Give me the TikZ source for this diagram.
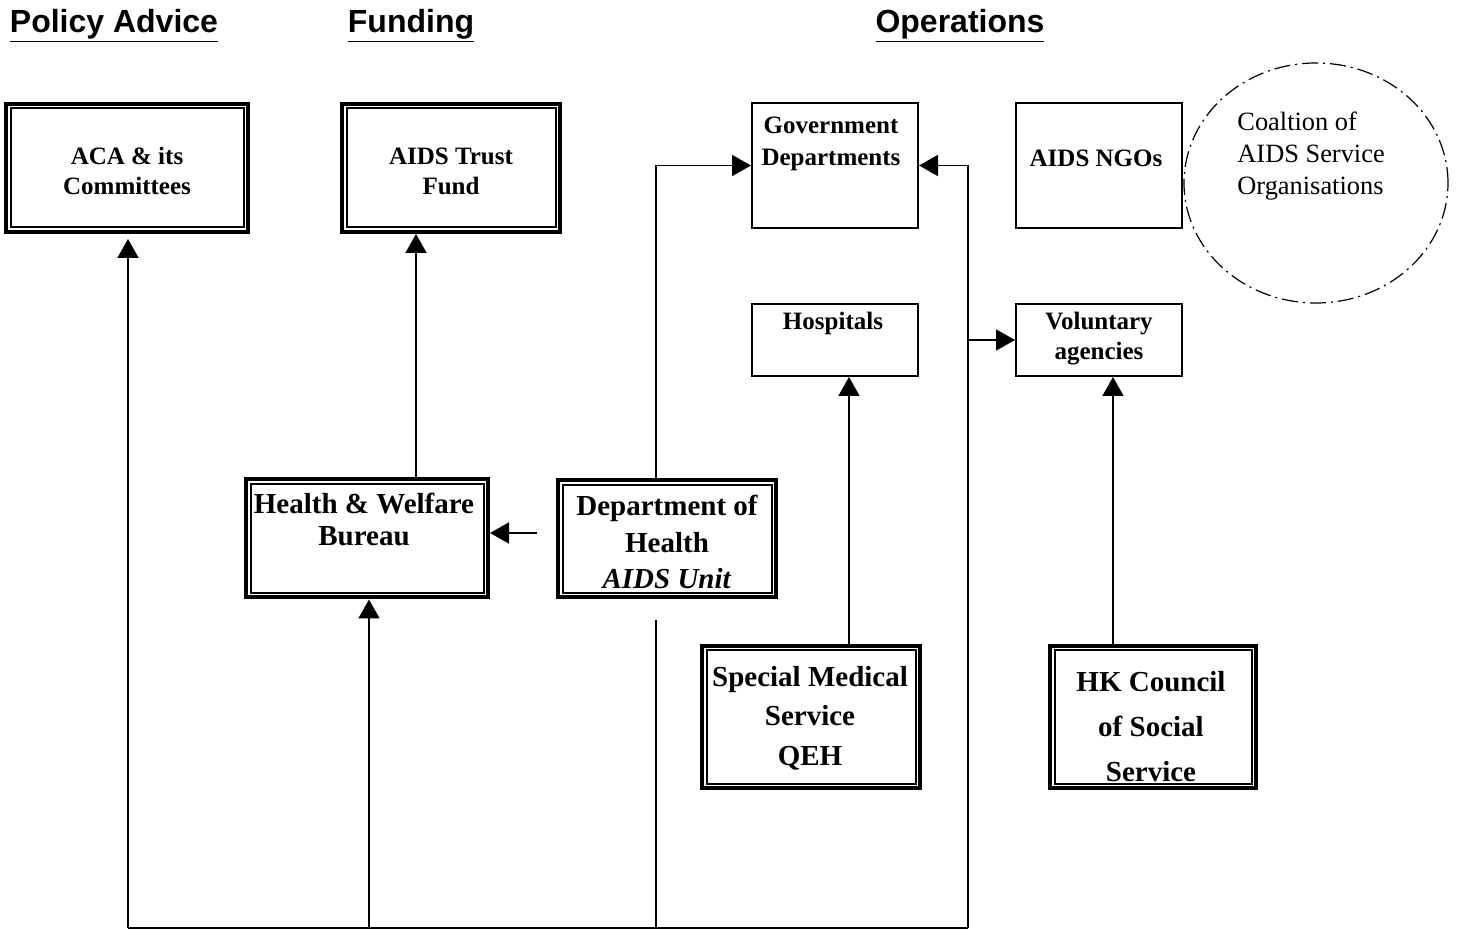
\documentclass[tikz,border=0pt]{standalone}
\usepackage{fontspec}
\setmainfont{Liberation Serif}
\newfontfamily\headfont{Liberation Sans}
\usetikzlibrary{arrows.meta,shapes.geometric}

\tikzset{
  box/.style={draw, line width=1pt, inner sep=0pt},
  dbox/.style={draw, line width=2pt, inner sep=0pt,
    path picture={\draw[line width=1pt]
      ([shift={(2.25pt,-2.25pt)}]path picture bounding box.north west) rectangle
      ([shift={(-2.25pt,2.25pt)}]path picture bounding box.south east);}},
  txt/.style={align=center, inner sep=0pt, font=\bfseries\fontsize{12.5}{15}\selectfont},
  bigtxt/.style={align=center, inner sep=0pt, font=\bfseries\fontsize{14.5}{16}\selectfont},
  head/.style={inner sep=0pt, font=\headfont\bfseries\fontsize{16}{19}\selectfont},
  link/.style={line width=0.9pt, -{Triangle[length=9.5pt,width=10.5pt]}},
  line/.style={line width=0.9pt},
}

\begin{document}
\begin{tikzpicture}[x=0.5pt,y=-0.5pt]
\useasboundingbox (0,0) rectangle (1458,930);

% headings
\node[head] (h-policy) at (114,26) {\underline{Policy Advice}};
\node[head] (h-fund) at (411,26) {\underline{Funding}};
\node[head] (h-ops) at (960,26) {\underline{Operations}};

% top row
\node[dbox, minimum width=121pt, minimum height=64pt] (aca) at (127,168) {};
\node[txt] (aca-t) at (127,171) {ACA \& its\\Committees};
\node[dbox, minimum width=109pt, minimum height=64pt] (fund) at (451,168) {};
\node[txt] (fund-t) at (451,171) {AIDS Trust\\Fund};
\node[box, minimum width=83pt, minimum height=62.5pt] (gov) at (835,165.5) {};
\node[txt, font=\bfseries\fontsize{12.5}{16}\selectfont] (gov-t) at (831,144) {Government\\Departments};
\node[box, minimum width=83pt, minimum height=62.5pt] (ngo) at (1099,165.5) {};
\node[txt] (ngo-t) at (1096,158) {AIDS NGOs};
\node[draw, ellipse, line width=0.6pt, dash pattern=on 8pt off 2.5pt on 1pt off 2.5pt,
  minimum width=132pt, minimum height=120pt] (coal) at (1316,183) {};
\node[align=left, inner sep=0pt, anchor=west, font=\fontsize{13.2}{16}\selectfont]
  (coal-t) at (1237,156) {Coaltion of\\AIDS Service\\Organisations};

% second row
\node[box, minimum width=83pt, minimum height=36pt] (hosp) at (835,340) {};
\node[txt] (hosp-t) at (833,323) {Hospitals};
\node[box, minimum width=83pt, minimum height=36pt] (vol) at (1099,340) {};
\node[txt] (vol-t) at (1099,339) {Voluntary\\agencies};

% middle row
\node[dbox, minimum width=121pt, minimum height=59pt] (hwb) at (367,538.5) {};
\node[bigtxt] (hwb-t) at (364,519) {Health \& Welfare\\Bureau};
\node[dbox, minimum width=109pt, minimum height=58.5pt] (doh) at (667,539) {};
\node[bigtxt, font=\bfseries\fontsize{14.5}{18.25}\selectfont] (doh-t) at (667,542)
  {Department of\\Health\\\textit{AIDS Unit}};

% bottom row
\node[dbox, minimum width=109pt, minimum height=71pt] (sms) at (811,717) {};
\node[bigtxt, font=\bfseries\fontsize{14.5}{19.75}\selectfont] (sms-t) at (810,718)
  {Special Medical\\Service\\QEH};
\node[dbox, minimum width=103pt, minimum height=71pt] (hkc) at (1153,717) {};
\node[bigtxt, font=\bfseries\fontsize{14.5}{22.5}\selectfont] (hkc-t) at (1151,727)
  {HK Council\\of Social\\Service};

% connectors
\coordinate (bl) at (128,928);
\coordinate (br) at (968,928);
\coordinate (hwbx) at (369,800);
\coordinate (dohfree) at (656,620);
\coordinate (fundx) at (416,400);
\coordinate (dohtip) at (537,533);
\coordinate (hospx) at (849,500);
\coordinate (volx) at (1113,500);

\draw[line] (bl) -- (br);
\draw[link] (bl) -- ([yshift=-2.5pt]bl |- aca.south);
\draw[link] (hwbx |- bl) -- (hwbx |- hwb.south);
\draw[line] (dohfree |- bl) -- (dohfree);
\draw[link] (dohfree |- doh.north) |- (gov.west);
\draw[link] (br) |- (gov.east);
\draw[link] (br |- vol.west) -- (vol.west);
\draw[link] (fundx |- hwb.north) -- (fundx |- fund.south);
\draw[link] (dohtip) -- (dohtip -| hwb.east);
\draw[link] (hospx |- sms.north) -- (hospx |- hosp.south);
\draw[link] (volx |- hkc.north) -- (volx |- vol.south);
\end{tikzpicture}
\end{document}
